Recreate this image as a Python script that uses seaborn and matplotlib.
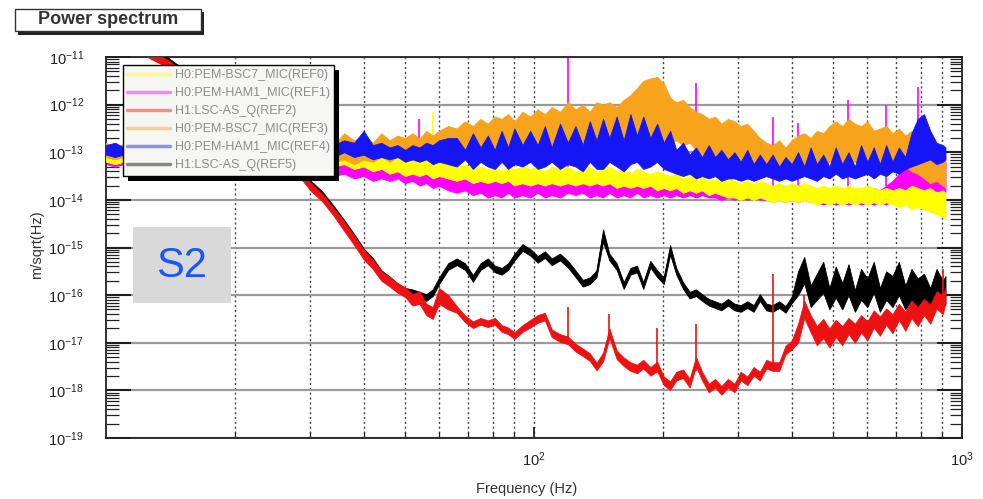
import numpy as np
import pandas as pd
import seaborn as sns
import matplotlib
matplotlib.use("Agg")
from matplotlib import pyplot as plt
from matplotlib import ticker
from matplotlib import patheffects
from matplotlib.patches import Rectangle
from matplotlib.transforms import IdentityTransform

# frequency bins (Hz) shared by all traces
freq = [10, 10.5, 11, 11.5, 12, 12.5, 13, 14, 15, 16,
        17, 18, 19, 20, 21, 22, 23, 24, 25, 26,
        27, 28, 29, 30, 32, 34, 36, 38, 40, 42,
        44, 46, 48, 50, 52, 54, 56, 58, 60, 63,
        66, 69, 72, 75, 78, 81, 84, 87, 90, 94,
        98, 102, 106, 110, 115, 120, 125, 130, 135, 140,
        145, 150, 156, 162, 168, 174, 180, 187, 194, 201,
        208, 215, 223, 231, 239, 247, 256, 265, 274, 284,
        294, 304, 315, 326, 337, 349, 361, 374, 387, 400,
        414, 428, 443, 458, 474, 490, 507, 525, 543, 562,
        581, 601, 622, 643, 665, 688, 712, 737, 762, 788,
        815, 843, 872, 902, 915]

# each trace is a dense spectrum -> stored as max / min per bin (log10 of m/sqrt(Hz))
ref0_top = [-13.00, -13.05, -13.00, -13.08, -13.02, -13.05, -13.00, -13.08, -13.02, -13.05,
            -13.00, -13.08, -13.02, -13.05, -13.00, -13.08, -13.02, -13.05, -13.00, -13.08,
            -13.02, -13.05, -13.00, -13.08, -12.95, -13.05, -12.85, -13.00, -12.95, -13.05,
            -13.00, -13.10, -13.05, -13.15, -13.10, -13.15, -13.10, -13.20, -13.20, -13.25,
            -13.30, -13.25, -13.35, -13.30, -13.35, -13.30, -13.40, -13.30, -13.35, -13.30,
            -13.35, -13.30, -13.40, -13.30, -13.35, -13.30, -13.40, -13.35, -13.30, -13.40,
            -13.35, -13.30, -13.40, -13.35, -13.45, -13.35, -13.40, -13.45, -13.40, -13.45,
            -13.50, -13.45, -13.55, -13.50, -13.55, -13.50, -13.60, -13.55, -13.60, -13.55,
            -13.60, -13.65, -13.60, -13.65, -13.60, -13.65, -13.70, -13.65, -13.70, -13.65,
            -13.70, -13.65, -13.70, -13.75, -13.70, -13.75, -13.70, -13.75, -13.70, -13.75,
            -13.75, -13.70, -13.75, -13.80, -13.75, -13.80, -13.75, -13.80, -13.70, -13.75,
            -13.80, -13.75, -13.85, -13.80, -13.85]
ref0_bot = [-13.20, -13.25, -13.20, -13.25, -13.20, -13.25, -13.20, -13.25, -13.20, -13.25,
            -13.20, -13.25, -13.20, -13.25, -13.20, -13.25, -13.20, -13.25, -13.20, -13.25,
            -13.20, -13.25, -13.20, -13.25, -13.20, -13.30, -13.25, -13.35, -13.30, -13.40,
            -13.35, -13.45, -13.40, -13.50, -13.45, -13.50, -13.45, -13.55, -13.50, -13.55,
            -13.60, -13.55, -13.65, -13.60, -13.65, -13.60, -13.65, -13.60, -13.70, -13.65,
            -13.70, -13.65, -13.70, -13.65, -13.70, -13.65, -13.70, -13.65, -13.70, -13.65,
            -13.70, -13.65, -13.75, -13.70, -13.75, -13.70, -13.75, -13.70, -13.80, -13.75,
            -13.80, -13.75, -13.85, -13.80, -13.85, -13.80, -13.90, -13.85, -13.90, -13.95,
            -13.95, -14.00, -13.95, -14.00, -13.95, -14.00, -14.05, -14.00, -14.05, -14.00,
            -14.05, -14.00, -14.05, -14.10, -14.05, -14.10, -14.05, -14.10, -14.05, -14.10,
            -14.05, -14.10, -14.05, -14.10, -14.05, -14.10, -14.15, -14.10, -14.20, -14.15,
            -14.20, -14.25, -14.30, -14.35, -14.40]

ref1_top = [-13.05, -13.10, -13.05, -13.12, -13.08, -13.12, -13.05, -13.10, -13.08, -13.12,
            -13.05, -13.12, -13.08, -13.10, -13.05, -13.12, -13.08, -13.10, -13.05, -13.12,
            -13.08, -13.10, -13.05, -13.12, -13.10, -13.15, -13.05, -13.20, -13.10, -13.25,
            -13.15, -13.25, -13.20, -13.35, -13.30, -13.30, -13.40, -13.35, -13.45, -13.40,
            -13.50, -13.45, -13.55, -13.50, -13.55, -13.50, -13.60, -13.50, -13.55, -13.50,
            -13.55, -13.50, -13.60, -13.50, -13.55, -13.50, -13.55, -13.45, -13.55, -13.50,
            -13.55, -13.50, -13.55, -13.45, -13.55, -13.50, -13.55, -13.50, -13.60, -13.50,
            -13.55, -13.50, -13.60, -13.55, -13.60, -13.55, -13.60, -13.65, -13.60, -13.65,
            -13.65, -13.70, -13.65, -13.70, -13.65, -13.70, -13.75, -13.70, -13.75, -13.70,
            -13.75, -13.70, -13.75, -13.80, -13.75, -13.80, -13.75, -13.80, -13.75, -13.80,
            -13.75, -13.80, -13.75, -13.80, -13.70, -13.60, -13.45, -13.30, -13.20, -13.35,
            -13.15, -13.20, -13.10, -13.25, -13.20]
ref1_bot = [-13.25, -13.30, -13.25, -13.30, -13.25, -13.30, -13.25, -13.30, -13.25, -13.30,
            -13.25, -13.30, -13.25, -13.30, -13.25, -13.30, -13.25, -13.30, -13.25, -13.30,
            -13.25, -13.30, -13.25, -13.35, -13.40, -13.50, -13.45, -13.55, -13.50, -13.60,
            -13.55, -13.60, -13.55, -13.65, -13.60, -13.70, -13.65, -13.75, -13.70, -13.80,
            -13.85, -13.80, -13.90, -13.85, -13.95, -13.90, -13.95, -13.85, -13.95, -13.90,
            -13.95, -13.85, -13.95, -13.90, -13.95, -13.85, -13.90, -13.85, -13.95, -13.90,
            -13.95, -13.85, -13.95, -13.90, -13.95, -13.85, -13.95, -13.90, -13.95, -13.90,
            -13.95, -13.90, -13.95, -13.90, -13.95, -13.90, -13.95, -13.95, -14.00, -13.95,
            -14.00, -13.95, -14.00, -13.95, -14.00, -14.00, -14.05, -14.00, -14.05, -14.00,
            -14.05, -14.00, -14.05, -14.05, -14.10, -14.05, -14.10, -14.05, -14.10, -14.05,
            -14.10, -14.05, -14.10, -14.05, -14.10, -14.00, -13.95, -13.90, -13.85, -13.90,
            -13.85, -13.95, -13.80, -13.90, -13.85]

ref2_top = [-10.22, -10.37, -10.52, -10.64, -10.74, -10.84, -10.92, -11.07, -11.27, -11.47,
            -11.67, -11.84, -12.02, -12.20, -12.37, -12.52, -12.66, -12.80, -12.92, -13.04,
            -13.17, -13.32, -13.47, -13.64, -13.87, -14.17, -14.45, -14.75, -15.05, -15.25,
            -15.50, -15.62, -15.75, -15.84, -15.98, -15.92, -16.18, -16.25, -15.85, -16.00,
            -16.23, -16.43, -16.55, -16.48, -16.53, -16.48, -16.63, -16.68, -16.78, -16.63,
            -16.52, -16.42, -16.37, -16.72, -16.82, -16.87, -17.02, -17.12, -17.22, -17.42,
            -17.21, -16.70, -17.16, -17.31, -17.41, -17.46, -17.36, -17.51, -17.40, -17.71,
            -17.81, -17.61, -17.56, -17.76, -17.30, -17.61, -17.86, -17.76, -17.91, -17.76,
            -17.86, -17.61, -17.71, -17.51, -17.61, -17.36, -17.41, -17.41, -17.06, -16.96,
            -16.60, -16.12, -16.42, -16.65, -16.50, -16.70, -16.52, -16.65, -16.48, -16.60,
            -16.42, -16.55, -16.32, -16.45, -16.28, -16.40, -16.18, -16.35, -16.12, -16.25,
            -16.08, -16.20, -15.92, -16.00, -15.85]
ref2_bot = [-10.38, -10.53, -10.68, -10.80, -10.90, -11.00, -11.08, -11.23, -11.43, -11.63,
            -11.83, -12.00, -12.18, -12.36, -12.53, -12.68, -12.82, -12.96, -13.08, -13.20,
            -13.33, -13.48, -13.63, -13.80, -14.03, -14.33, -14.65, -14.95, -15.25, -15.45,
            -15.70, -15.82, -15.95, -16.04, -16.22, -16.18, -16.42, -16.50, -16.18, -16.30,
            -16.37, -16.57, -16.69, -16.62, -16.67, -16.62, -16.77, -16.82, -16.92, -16.77,
            -16.68, -16.58, -16.53, -16.88, -16.98, -17.03, -17.18, -17.28, -17.38, -17.58,
            -17.39, -16.90, -17.34, -17.49, -17.59, -17.64, -17.54, -17.69, -17.60, -17.89,
            -17.99, -17.79, -17.74, -17.94, -17.50, -17.79, -18.04, -17.94, -18.09, -17.94,
            -18.04, -17.79, -17.89, -17.69, -17.79, -17.54, -17.59, -17.59, -17.24, -17.14,
            -17.00, -16.48, -16.78, -17.05, -16.90, -17.10, -16.88, -17.05, -16.82, -17.00,
            -16.78, -16.95, -16.68, -16.85, -16.62, -16.80, -16.52, -16.75, -16.48, -16.65,
            -16.42, -16.60, -16.28, -16.40, -16.15]

ref3_top = [-12.80, -12.90, -12.82, -12.92, -12.85, -12.90, -12.80, -12.90, -12.85, -12.80,
            -12.90, -12.85, -12.80, -12.90, -12.85, -12.80, -12.90, -12.85, -12.80, -12.90,
            -12.85, -12.80, -12.90, -12.75, -12.70, -12.85, -12.60, -12.75, -12.65, -12.80,
            -12.60, -12.75, -12.65, -12.70, -12.60, -12.72, -12.55, -12.65, -12.55, -12.45,
            -12.50, -12.35, -12.45, -12.30, -12.40, -12.25, -12.30, -12.20, -12.35, -12.15,
            -12.25, -12.10, -12.20, -12.05, -12.15, -11.95, -12.10, -12.00, -12.15, -11.95,
            -12.00, -11.95, -12.05, -11.90, -11.80, -11.65, -11.50, -11.45, -11.42, -11.55,
            -11.85, -11.95, -11.90, -12.05, -12.15, -12.20, -12.30, -12.25, -12.40, -12.30,
            -12.35, -12.45, -12.40, -12.55, -12.70, -12.80, -12.85, -12.75, -12.90, -12.75,
            -12.65, -12.60, -12.70, -12.55, -12.60, -12.45, -12.35, -12.45, -12.30, -12.40,
            -12.45, -12.35, -12.55, -12.50, -12.45, -12.60, -12.50, -12.65, -12.55, -12.75,
            -12.90, -13.00, -12.95, -13.05, -13.10]
ref3_bot = [-13.10, -13.15, -13.10, -13.15, -13.10, -13.15, -13.10, -13.15, -13.10, -13.15,
            -13.10, -13.15, -13.10, -13.15, -13.10, -13.15, -13.10, -13.15, -13.10, -13.15,
            -13.10, -13.15, -13.10, -13.15, -13.10, -13.20, -13.15, -13.25, -13.15, -13.20,
            -13.10, -13.20, -13.10, -13.15, -13.05, -13.15, -13.05, -13.10, -13.00, -13.05,
            -13.00, -13.05, -12.95, -13.05, -12.95, -13.00, -12.90, -13.00, -12.95, -12.90,
            -12.95, -12.85, -12.95, -12.85, -12.90, -12.80, -12.90, -12.80, -12.85, -12.75,
            -12.85, -12.75, -12.80, -12.75, -12.85, -12.75, -12.70, -12.65, -12.70, -12.75,
            -12.80, -12.75, -12.85, -12.80, -12.95, -13.05, -13.15, -13.10, -13.25, -13.20,
            -13.25, -13.30, -13.20, -13.35, -13.40, -13.50, -13.55, -13.45, -13.50, -13.40,
            -13.35, -13.30, -13.35, -13.25, -13.30, -13.20, -13.25, -13.20, -13.25, -13.20,
            -13.25, -13.20, -13.30, -13.25, -13.30, -13.25, -13.35, -13.30, -13.40, -13.45,
            -13.55, -13.65, -13.60, -13.70, -13.75]

ref4_top = [-12.85, -12.80, -12.90, -12.85, -12.80, -12.90, -12.85, -12.80, -12.90, -12.85,
            -12.80, -12.90, -12.85, -12.80, -12.90, -12.85, -12.80, -12.90, -12.85, -12.80,
            -12.90, -12.85, -12.80, -12.90, -12.80, -12.85, -12.75, -12.80, -12.55, -12.85,
            -12.80, -12.90, -12.85, -12.95, -12.85, -12.90, -12.80, -12.85, -12.75, -12.70,
            -12.70, -12.95, -12.60, -12.90, -12.65, -12.95, -12.55, -12.90, -12.50, -12.85,
            -12.55, -12.85, -12.45, -12.90, -12.40, -12.80, -12.45, -12.85, -12.35, -12.75,
            -12.30, -12.70, -12.25, -12.75, -12.20, -12.65, -12.25, -12.70, -12.40, -12.80,
            -12.55, -12.95, -12.80, -13.05, -12.90, -13.10, -12.85, -13.10, -12.95, -13.15,
            -13.00, -13.20, -12.95, -13.25, -13.05, -13.25, -13.05, -13.30, -13.10, -13.25,
            -13.00, -13.30, -12.90, -13.25, -13.05, -13.30, -12.90, -13.25, -13.00, -13.30,
            -12.85, -13.20, -12.90, -13.25, -12.85, -13.20, -12.90, -13.10, -12.60, -12.30,
            -12.20, -12.55, -12.80, -12.85, -12.90]
ref4_bot = [-13.05, -13.10, -13.05, -13.10, -13.05, -13.10, -13.05, -13.10, -13.05, -13.10,
            -13.05, -13.10, -13.05, -13.10, -13.05, -13.10, -13.05, -13.10, -13.05, -13.10,
            -13.05, -13.10, -13.05, -13.10, -13.05, -13.10, -13.00, -13.10, -13.05, -13.15,
            -13.10, -13.15, -13.10, -13.20, -13.15, -13.20, -13.15, -13.25, -13.20, -13.25,
            -13.30, -13.15, -13.35, -13.20, -13.30, -13.35, -13.20, -13.35, -13.25, -13.30,
            -13.20, -13.35, -13.30, -13.20, -13.35, -13.25, -13.30, -13.40, -13.20, -13.35,
            -13.35, -13.20, -13.30, -13.40, -13.25, -13.20, -13.35, -13.30, -13.20, -13.35,
            -13.40, -13.45, -13.50, -13.45, -13.55, -13.50, -13.55, -13.50, -13.60, -13.55,
            -13.55, -13.60, -13.55, -13.60, -13.55, -13.50, -13.55, -13.60, -13.55, -13.60,
            -13.55, -13.50, -13.55, -13.60, -13.50, -13.55, -13.45, -13.55, -13.50, -13.55,
            -13.50, -13.45, -13.55, -13.45, -13.50, -13.40, -13.45, -13.35, -13.30, -13.25,
            -13.20, -13.15, -13.25, -13.20, -13.15]

ref5_top = [-10.17, -10.32, -10.47, -10.59, -10.69, -10.79, -10.87, -11.02, -11.22, -11.42,
            -11.62, -11.79, -11.97, -12.15, -12.32, -12.47, -12.61, -12.75, -12.87, -12.99,
            -13.12, -13.27, -13.42, -13.59, -13.82, -14.12, -14.42, -14.72, -15.02, -15.22,
            -15.48, -15.61, -15.75, -15.85, -15.88, -15.93, -15.98, -15.88, -15.63, -15.33,
            -15.23, -15.33, -15.58, -15.33, -15.23, -15.38, -15.43, -15.33, -15.13, -14.93,
            -15.03, -15.18, -15.08, -15.23, -15.13, -15.28, -15.48, -15.68, -15.63, -15.48,
            -14.62, -15.13, -15.33, -15.73, -15.43, -15.38, -15.73, -15.28, -15.48, -15.63,
            -14.95, -15.43, -15.73, -15.93, -15.88, -15.98, -16.08, -16.13, -16.18, -16.08,
            -16.18, -16.21, -16.13, -16.21, -15.98, -16.18, -16.21, -16.13, -16.23, -16.03,
            -15.50, -15.20, -15.80, -15.55, -15.30, -15.85, -15.40, -15.75, -15.35, -15.90,
            -15.45, -15.65, -15.30, -15.85, -15.50, -15.60, -15.30, -15.80, -15.45, -15.65,
            -15.55, -15.85, -15.45, -15.70, -15.60]
ref5_bot = [-10.27, -10.42, -10.57, -10.69, -10.79, -10.89, -10.97, -11.12, -11.32, -11.52,
            -11.72, -11.89, -12.07, -12.25, -12.42, -12.57, -12.71, -12.85, -12.97, -13.09,
            -13.22, -13.37, -13.52, -13.69, -13.92, -14.22, -14.52, -14.82, -15.12, -15.32,
            -15.62, -15.75, -15.89, -15.99, -16.02, -16.07, -16.12, -16.02, -15.77, -15.47,
            -15.37, -15.47, -15.72, -15.47, -15.37, -15.52, -15.57, -15.47, -15.27, -15.07,
            -15.17, -15.32, -15.22, -15.37, -15.27, -15.42, -15.62, -15.82, -15.77, -15.62,
            -14.88, -15.27, -15.47, -15.87, -15.57, -15.52, -15.87, -15.42, -15.62, -15.77,
            -15.15, -15.57, -15.87, -16.07, -16.02, -16.12, -16.22, -16.27, -16.32, -16.22,
            -16.32, -16.35, -16.27, -16.35, -16.12, -16.32, -16.35, -16.27, -16.37, -16.17,
            -16.00, -15.75, -16.25, -16.10, -15.95, -16.30, -16.05, -16.30, -16.00, -16.35,
            -16.10, -16.25, -15.95, -16.35, -16.10, -16.25, -16.00, -16.30, -16.10, -16.30,
            -16.20, -16.35, -16.05, -16.25, -16.20]

# narrow lines sticking out of the traces: frequency, base, peak (log10)
ref1_spike_f = [54, 120, 239, 361, 414, 543, 665, 788]
ref1_spike_lo = [-13.40, -13.70, -13.70, -13.80, -13.80, -13.80, -13.70, -13.50]
ref1_spike_hi = [-12.30, -11.02, -11.55, -12.26, -12.39, -11.90, -12.00, -11.63]
ref0_spike_f = [58]
ref0_spike_lo = [-13.30]
ref0_spike_hi = [-12.15]
ref2_spike_f = [120, 150, 194, 239, 361, 428, 902]
ref2_spike_lo = [-16.95, -16.90, -17.60, -17.60, -17.50, -16.40, -16.20]
ref2_spike_hi = [-16.25, -16.40, -16.70, -16.60, -15.55, -16.00, -15.45]

labels = ["H0:PEM-BSC7_MIC(REF0)", "H0:PEM-HAM1_MIC(REF1)", "H1:LSC-AS_Q(REF2)",
          "H0:PEM-BSC7_MIC(REF3)", "H0:PEM-HAM1_MIC(REF4)", "H1:LSC-AS_Q(REF5)"]
tops = [ref0_top, ref1_top, ref2_top, ref3_top, ref4_top, ref5_top]
bots = [ref0_bot, ref1_bot, ref2_bot, ref3_bot, ref4_bot, ref5_bot]
spikes = {0: (ref0_spike_f, ref0_spike_lo, ref0_spike_hi),
          1: (ref1_spike_f, ref1_spike_lo, ref1_spike_hi),
          2: (ref2_spike_f, ref2_spike_lo, ref2_spike_hi)}
colors = ["#ffff00", "#ff00ff", "#ee1111", "#f7a31c", "#1515f5", "#000000"]

sns.set_theme(style="white")
plt.rcParams["font.family"] = ["Liberation Sans", "DejaVu Sans"]
plt.rcParams["mathtext.default"] = "regular"

W, H = 983, 499
fig = plt.figure(figsize=(W / 100, H / 100), dpi=100)


def fx(x):
    return x / W


def fy(y):
    return 1 - y / H


ax = fig.add_axes([fx(106), fy(438), (962 - 106) / W, (438 - 57) / H])
ax.set_xscale("log")
ax.set_yscale("log")

# draw order: magenta, yellow, orange, blue, black, red
handles = {}
for z, i in enumerate([1, 0, 3, 4, 5, 2]):
    df = pd.DataFrame({"f": freq + freq,
                       "asd": 10 ** np.array(tops[i] + bots[i])})
    sns.lineplot(data=df, x="f", y="asd", color=colors[i], lw=0.8,
                 errorbar=("pi", 100), err_kws={"alpha": 1, "lw": 0.6, "zorder": 2 + z},
                 zorder=2 + z, ax=ax)
    handles[i] = ax.lines[-1]
    if i in spikes:
        sf, slo, shi = spikes[i]
        ax.vlines(sf, 10 ** np.array(slo), 10 ** np.array(shi), color=colors[i],
                  lw=1.2, zorder=2 + z)

ax.set_xlim(10, 1000)
ax.set_ylim(1e-19, 1e-11)

# ticks
ax.xaxis.set_major_locator(ticker.FixedLocator([100, 1000]))
ax.xaxis.set_major_formatter(ticker.LogFormatterSciNotation())
ax.xaxis.set_minor_locator(ticker.LogLocator(base=10, subs=range(2, 10)))
ax.xaxis.set_minor_formatter(ticker.NullFormatter())
ax.yaxis.set_major_locator(ticker.LogLocator(base=10, numticks=20))
ax.yaxis.set_minor_locator(ticker.LogLocator(base=10, subs=range(2, 10), numticks=20))
ax.yaxis.set_minor_formatter(ticker.NullFormatter())
ax.tick_params(axis="y", which="major", direction="in", length=18, width=1.3,
               left=True, right=True, color="#111", labelsize=10.5, pad=16,
               labelcolor="#222")
ax.tick_params(axis="y", which="minor", direction="in", length=9, width=0.9,
               left=True, right=True, color="#222")
ax.tick_params(axis="x", which="major", direction="in", length=8, width=1.2,
               bottom=True, color="#111", labelsize=10.5, pad=9, labelcolor="#222")
ax.tick_params(axis="x", which="minor", direction="in", length=4, width=0.9,
               bottom=True, color="#222")

# grid
ax.set_axisbelow(True)
ax.grid(True, which="both", axis="x", color="#444", lw=1.0, ls=(0, (1.5, 2)))
ax.grid(True, which="major", axis="y", color="#9a9a9a", lw=1.6, ls="-")
for s in ax.spines.values():
    s.set_color("#222")
    s.set_linewidth(1.3)
ax.set_xlabel("")
ax.set_ylabel("")

# legend
leg = ax.legend([handles[i] for i in range(6)], labels, loc="upper left",
                bbox_to_anchor=(fx(123), fy(65)), bbox_transform=fig.transFigure,
                prop=dict(family="Liberation Sans", size=9), frameon=True,
                fancybox=False, edgecolor="black", facecolor="#f6f6f2",
                framealpha=1, borderpad=0.35, labelspacing=0.48, handlelength=3.4,
                handletextpad=0.4, borderaxespad=0)
leg.set_zorder(20)
leg.get_frame().set_linewidth(1.0)
for t in leg.get_texts():
    t.set_color("#8c8c8c")
for ln in leg.get_lines():
    ln.set_alpha(0.45)
    ln.set_linewidth(2.5)

fig.canvas.draw()
bb = leg.get_window_extent()
shadow = Rectangle((bb.x0 + 5, bb.y0 - 5), bb.width, bb.height,
                   transform=IdentityTransform(), facecolor="black",
                   edgecolor="none", zorder=19.9)
ax.add_artist(shadow)

# title box (box drawn as the text's own bbox, with a drop shadow)
title = fig.text(fx(108), fy(20), "    Power spectrum    ", ha="center", va="center",
                 fontsize=13, weight="bold", color="#333", zorder=3,
                 bbox=dict(boxstyle="square,pad=0.16", facecolor="white",
                           edgecolor="#333", lw=1.0))
title.get_bbox_patch().set_path_effects([
    patheffects.SimplePatchShadow(offset=(2.5, -2.5), shadow_rgbFace="#222", alpha=1),
    patheffects.Normal()])

# axis titles
fig.text(fx(37), fy(245), "m/sqrt(Hz)", rotation=90, ha="center", va="center",
         fontsize=10.5, color="#333")
fig.text(fx(527), fy(489), "Frequency (Hz)", ha="center", va="center",
         fontsize=10.5, color="#333")

# S2 tag
fig.add_artist(Rectangle((fx(133), fy(303)), (231 - 133) / W, (303 - 227) / H,
                         transform=fig.transFigure, facecolor="#d9d9d9",
                         edgecolor="none", zorder=2))
fig.text(fx(182), fy(266), "S2", ha="center", va="center", fontsize=30,
         color="#1a56f5", zorder=3)

fig.savefig("out.png", dpi=100, facecolor="white")
plt.close(fig)
